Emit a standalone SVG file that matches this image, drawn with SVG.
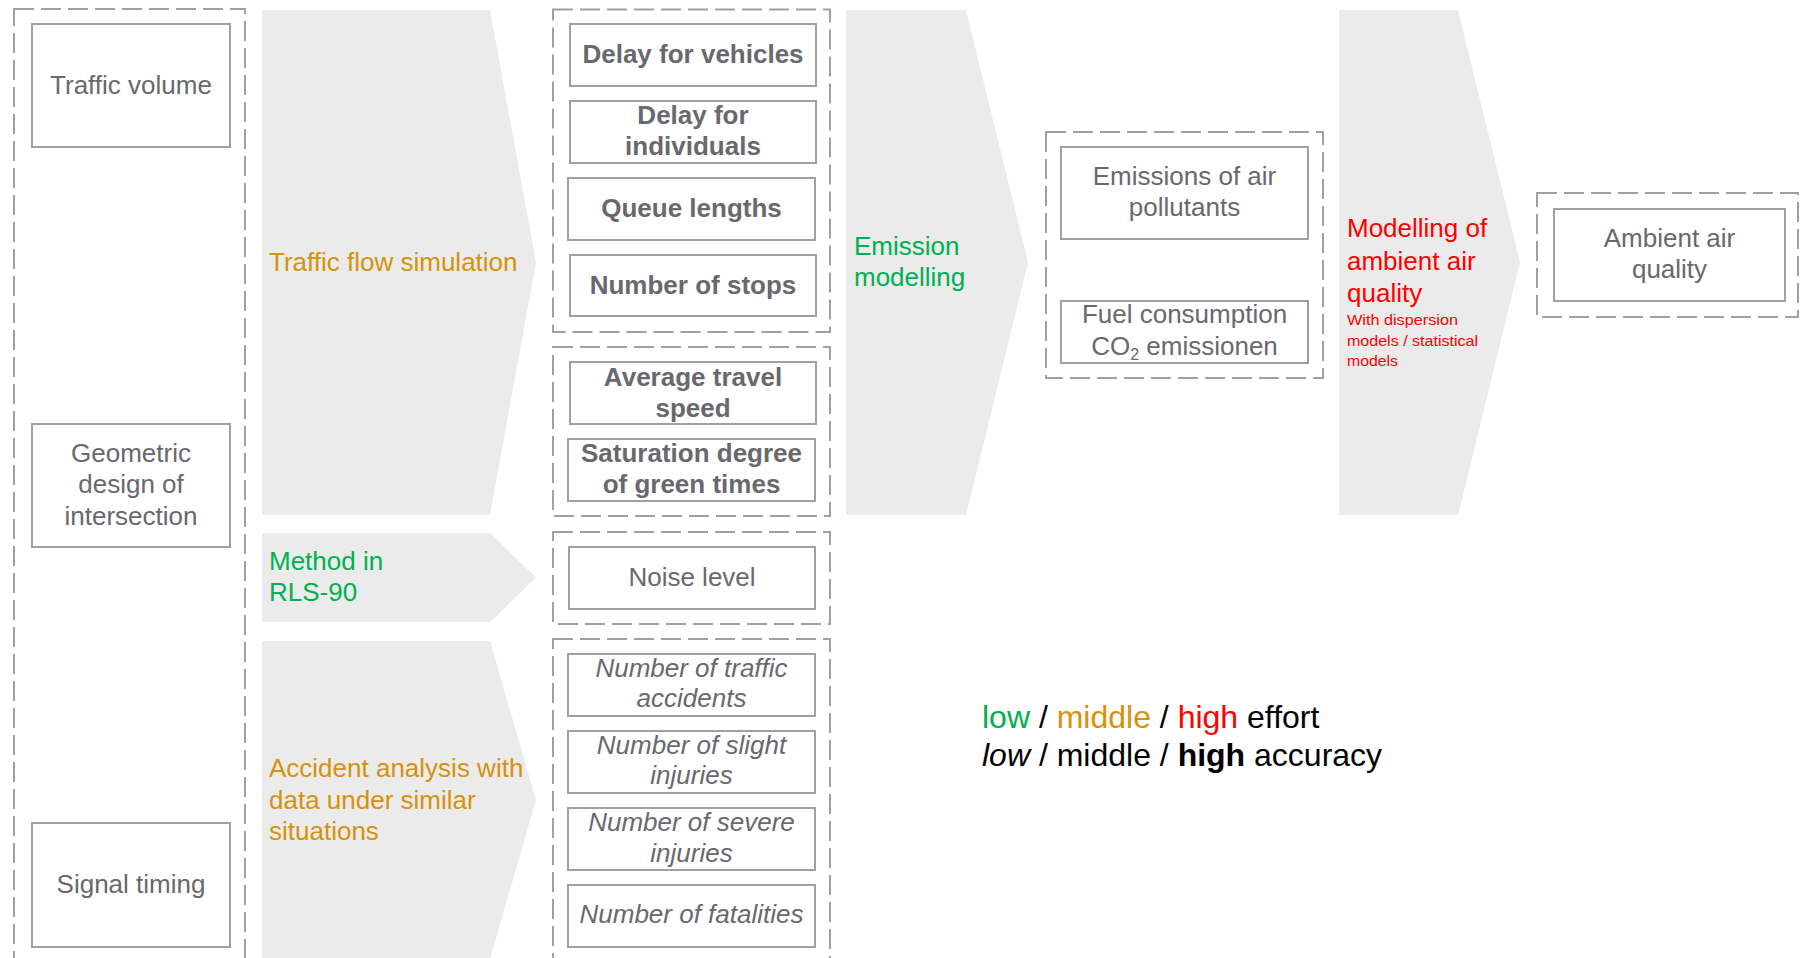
<svg xmlns="http://www.w3.org/2000/svg" width="1802" height="958" viewBox="0 0 1802 958">
<style>
.bg{fill:#ffffff}
.chev{fill:#EBEBEB;stroke:none}
.dash{fill:none;stroke:#A0A0A0;stroke-width:2;stroke-dasharray:20 7}
.box{fill:#ffffff;stroke:#A0A0A0;stroke-width:2}
text{font-family:"Liberation Sans",Arial,sans-serif;font-size:26px}
.t{fill:#68686E;text-anchor:middle}
.b{font-weight:bold}
.i{font-style:italic}
.or{fill:#D7910B}
.gr{fill:#00B050}
.rd{fill:#FF0000}
.sm{font-size:15px}
.lg{font-size:32px;fill:#000000}
</style>
<rect class="bg" x="0" y="0" width="1802" height="958"/>
<g id="connectors">
<polygon id="arrow-traffic-flow" class="chev" points="262,10 490,10 536,262.5 490,515 262,515"/>
<polygon id="arrow-rls90" class="chev" points="262,533 490,533 536,577.5 490,622 262,622"/>
<polygon id="arrow-accident" class="chev" points="262,641 490,641 536,800 490,959 262,959"/>
<polygon id="arrow-emission" class="chev" points="846,10 966,10 1028,262.5 966,515 846,515"/>
<polygon id="arrow-ambient" class="chev" points="1339,10 1458,10 1520,262.5 1458,515 1339,515"/>
</g>
<g id="labels">
<text class="or" x="269" y="271">Traffic flow simulation</text>
<text class="gr" x="269" y="570">Method in</text>
<text class="gr" x="269" y="601">RLS-90</text>
<text class="or" x="269" y="777">Accident analysis with</text>
<text class="or" x="269" y="809">data under similar</text>
<text class="or" x="269" y="840">situations</text>
<text class="gr" x="854" y="255">Emission</text>
<text class="gr" x="854" y="286">modelling</text>
<text class="rd" x="1347" y="237">Modelling of</text>
<text class="rd" x="1347" y="270">ambient air</text>
<text class="rd" x="1347" y="302">quality</text>
<text class="rd sm" x="1347" y="325" textLength="111" lengthAdjust="spacingAndGlyphs">With dispersion</text>
<text class="rd sm" x="1347" y="346" textLength="131" lengthAdjust="spacingAndGlyphs">models / statistical</text>
<text class="rd sm" x="1347" y="366" textLength="51" lengthAdjust="spacingAndGlyphs">models</text>
</g>
<g id="group-inputs">
<rect class="dash" x="14" y="9" width="231" height="952"/>
</g>
<g id="node-traffic-volume">
<rect class="box" x="32" y="24" width="198" height="123"/>
<text class="t" x="131" y="94">Traffic volume</text>
</g>
<g id="node-geometric-design">
<rect class="box" x="32" y="424" width="198" height="123"/>
<text class="t" x="131" y="462">Geometric</text>
<text class="t" x="131" y="493">design of</text>
<text class="t" x="131" y="525">intersection</text>
</g>
<g id="node-signal-timing">
<rect class="box" x="32" y="823" width="198" height="124"/>
<text class="t" x="131" y="893">Signal timing</text>
</g>
<g id="group-traffic-outputs">
<rect class="dash" x="553" y="9.5" width="277" height="322.5"/>
<rect class="dash" x="553" y="347" width="277" height="169"/>
</g>
<g id="node-delay-vehicles">
<rect class="box" x="570" y="24" width="246" height="62"/>
<text class="t b" x="693" y="63">Delay for vehicles</text>
</g>
<g id="node-delay-individuals">
<rect class="box" x="570" y="101" width="246" height="62"/>
<text class="t b" x="693" y="124">Delay for</text>
<text class="t b" x="693" y="155">individuals</text>
</g>
<g id="node-queue-lengths">
<rect class="box" x="568" y="178" width="247" height="62"/>
<text class="t b" x="691.5" y="217">Queue lengths</text>
</g>
<g id="node-number-stops">
<rect class="box" x="570" y="255" width="246" height="61"/>
<text class="t b" x="693" y="294">Number of stops</text>
</g>
<g id="node-average-speed">
<rect class="box" x="570" y="362" width="246" height="62"/>
<text class="t b" x="693" y="386">Average travel</text>
<text class="t b" x="693" y="417">speed</text>
</g>
<g id="node-saturation">
<rect class="box" x="568" y="439" width="247" height="62"/>
<text class="t b" x="691.5" y="462">Saturation degree</text>
<text class="t b" x="691.5" y="493">of green times</text>
</g>
<g id="group-noise">
<rect class="dash" x="553" y="532" width="277" height="92"/>
</g>
<g id="node-noise-level">
<rect class="box" x="569" y="547" width="246" height="62"/>
<text class="t" x="692" y="586">Noise level</text>
</g>
<g id="group-accidents">
<rect class="dash" x="553" y="639" width="277" height="322"/>
</g>
<g id="node-traffic-accidents">
<rect class="box" x="568" y="654" width="247" height="62"/>
<text class="t i" x="691.5" y="677">Number of traffic</text>
<text class="t i" x="691.5" y="707">accidents</text>
</g>
<g id="node-slight-injuries">
<rect class="box" x="568" y="731" width="247" height="62"/>
<text class="t i" x="691.5" y="754">Number of slight</text>
<text class="t i" x="691.5" y="784">injuries</text>
</g>
<g id="node-severe-injuries">
<rect class="box" x="568" y="808" width="247" height="62"/>
<text class="t i" x="691.5" y="831">Number of severe</text>
<text class="t i" x="691.5" y="862">injuries</text>
</g>
<g id="node-fatalities">
<rect class="box" x="568" y="885" width="247" height="62"/>
<text class="t i" x="691.5" y="923">Number of fatalities</text>
</g>
<g id="group-emissions">
<rect class="dash" x="1046" y="132" width="277" height="246"/>
</g>
<g id="node-emissions-air">
<rect class="box" x="1061" y="147" width="247" height="92"/>
<text class="t" x="1184.5" y="185">Emissions of air</text>
<text class="t" x="1184.5" y="216">pollutants</text>
</g>
<g id="node-fuel">
<rect class="box" x="1061" y="301" width="247" height="62"/>
<text class="t" x="1184.5" y="323">Fuel consumption</text>
<text class="t" x="1184.5" y="355">CO<tspan font-size="16" dy="5">2</tspan><tspan dy="-5"> emissionen</tspan></text>
</g>
<g id="group-ambient">
<rect class="dash" x="1537" y="193" width="261" height="124"/>
</g>
<g id="node-ambient">
<rect class="box" x="1554" y="209" width="231" height="92"/>
<text class="t" x="1669.5" y="247">Ambient air</text>
<text class="t" x="1669.5" y="278">quality</text>
</g>
<g id="legend">
<text class="lg" x="982" y="728"><tspan fill="#00B050">low</tspan> / <tspan fill="#D7910B">middle</tspan> / <tspan fill="#FF0000">high</tspan> effort</text>
<text class="lg" x="982" y="766"><tspan font-style="italic">low</tspan> / middle / <tspan font-weight="bold">high</tspan> accuracy</text>
</g>
</svg>
